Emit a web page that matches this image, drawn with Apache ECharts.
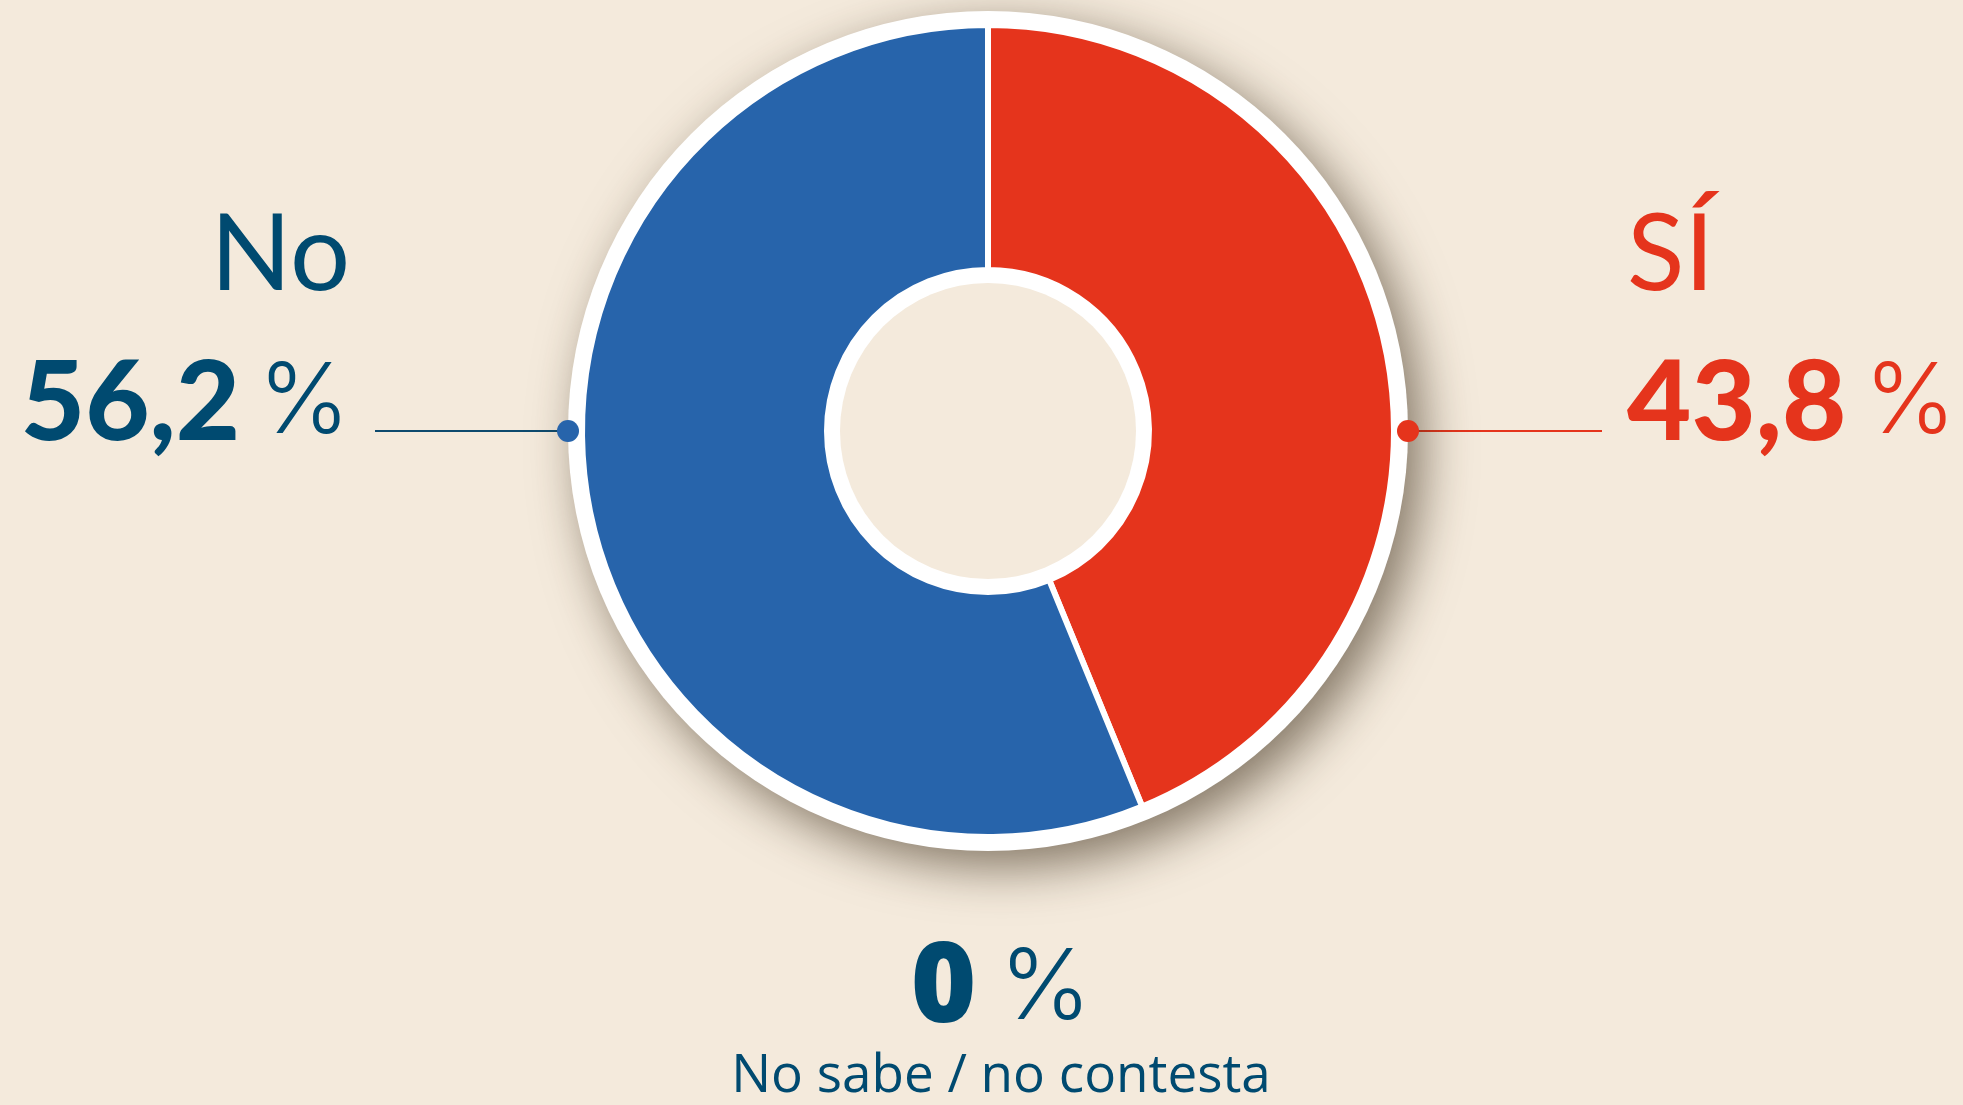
<!DOCTYPE html>
<html>
<head>
<meta charset="utf-8">
<script src="https://cdn.jsdelivr.net/npm/echarts@6/dist/echarts.min.js"></script>
<style>
  html, body { margin: 0; padding: 0; background: #f4eadc; }
  #chart { width: 1963px; height: 1105px; }
</style>
</head>
<body>
<div id="chart"></div>
<script>
// ---- data ----
const categories = ['SÍ', 'No', 'No sabe / no contesta'];
const values = [43.8, 56.2, 0];
const valueLabels = ['43,8', '56,2', '0'];

// ---- styles / layout ----
const BG = '#f4eadc';
const DARK = '#004a70';
const RED = '#e5341c';
const BLUE = '#2764ab';
const sliceColors = [RED, BLUE, BLUE];
const textColors = [RED, DARK, DARK];
const CX = 988, CY = 431;
const R_WHITE = 420, R_OUT = 406, R_IN = 161, R_HOLE = 148;

const chart = echarts.init(document.getElementById('chart'), null, { renderer: 'canvas' });

function sideRich(color, align) {
  return {
    name: { fontFamily: 'Lato', fontWeight: 400, fontSize: 106, color: color, lineHeight: 148, align: align },
    num: { fontFamily: 'Lato', fontWeight: 900, fontSize: 111, color: color, lineHeight: 148, align: align },
    sp: { fontFamily: 'Lato', fontWeight: 400, fontSize: 70, color: color, lineHeight: 148, align: align },
    pct: { fontFamily: 'Inter', fontWeight: 300, fontSize: 98, color: color, lineHeight: 148, align: align }
  };
}

const mainData = categories.map((name, i) => {
  const item = { name: name, value: values[i], itemStyle: { color: sliceColors[i] } };
  if (i < 2) {
    const align = i === 0 ? 'left' : 'right';
    item.label = {
      show: true,
      formatter: '{name|' + name + '}\n{num|' + valueLabels[i] + '}{sp| }{pct|%}',
      rich: sideRich(textColors[i], align)
    };
    item.labelLine = { show: true, lineStyle: { color: i === 0 ? RED : '#0d4a6e', width: 2 } };
  } else {
    item.label = {
      show: true,
      formatter: '{num|' + valueLabels[i] + '}{sp| }{pct|%}\n{sub|' + name + '}',
      rich: {
        num: { fontFamily: 'Open Sans', fontWeight: 800, fontSize: 112, color: DARK, lineHeight: 110 },
        sp: { fontFamily: 'Lato', fontWeight: 400, fontSize: 90, color: DARK, lineHeight: 110 },
        pct: { fontFamily: 'Inter', fontWeight: 300, fontSize: 98, color: DARK, lineHeight: 110 },
        sub: { fontFamily: 'Open Sans', fontWeight: 400, fontSize: 53, color: DARK, lineHeight: 64 }
      }
    };
    item.labelLine = { show: false };
  }
  return item;
});

const option = {
  backgroundColor: BG,
  animation: false,
  series: [
    {
      type: 'pie', silent: true, center: [CX, CY], radius: [0, R_WHITE],
      label: { show: false }, labelLine: { show: false },
      emphasis: { disabled: true },
      itemStyle: {
        color: '#ffffff',
        shadowBlur: 50, shadowOffsetX: 14, shadowOffsetY: 16,
        shadowColor: 'rgba(55, 40, 20, 0.6)'
      },
      data: [{ value: 1, name: 'base' }]
    },
    {
      type: 'pie', silent: true, center: [CX, CY], radius: [R_IN, R_OUT],
      startAngle: 90, clockwise: true, avoidLabelOverlap: false,
      emphasis: { disabled: true },
      itemStyle: { borderColor: '#ffffff', borderWidth: 6 },
      label: { show: true, position: 'outside' },
      labelLine: { show: true },
      labelLayout: function (params) {
        const i = params.dataIndex;
        if (i === 0) {
          return {
            x: 1627, y: 182, align: 'left', verticalAlign: 'top',
            labelLinePoints: [[CX + R_WHITE, CY], [CX + R_WHITE + 90, CY], [1602, CY]]
          };
        } else if (i === 1) {
          return {
            x: 350, y: 182, align: 'right', verticalAlign: 'top',
            labelLinePoints: [[CX - R_WHITE, CY], [CX - R_WHITE - 90, CY], [375, CY]]
          };
        }
        return { x: 1001, y: 935, align: 'center', verticalAlign: 'top' };
      },
      data: mainData
    },
    {
      type: 'pie', silent: true, center: [CX, CY], radius: [0, R_HOLE],
      label: { show: false }, labelLine: { show: false },
      emphasis: { disabled: true },
      itemStyle: { color: BG },
      data: [{ value: 1, name: 'hole' }]
    }
  ],
  graphic: [
    { type: 'circle', z: 100, shape: { cx: CX - R_WHITE, cy: CY, r: 11 }, style: { fill: BLUE } },
    { type: 'circle', z: 100, shape: { cx: CX + R_WHITE, cy: CY, r: 11 }, style: { fill: RED } }
  ]
};
chart.setOption(option);
</script>
</body>
</html>
